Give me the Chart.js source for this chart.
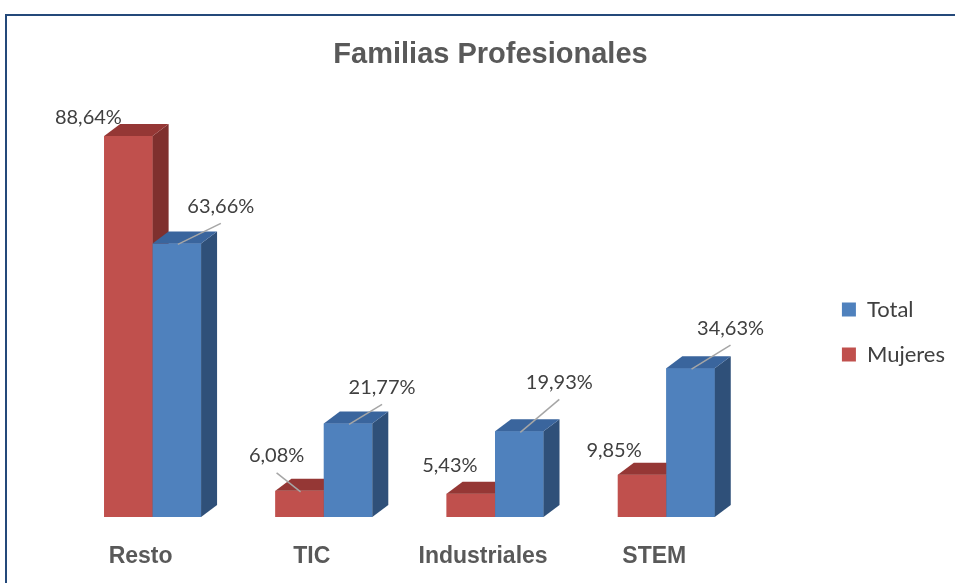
<!DOCTYPE html>
<html>
<head>
<meta charset="utf-8">
<script src="https://cdn.jsdelivr.net/npm/chart.js@4.4.0/dist/chart.umd.min.js"></script>
<style>
  html, body { margin: 0; padding: 0; background: #ffffff; }
  #wrap { width: 955px; height: 583px; position: relative; }
</style>
</head>
<body>
<div id="wrap"><canvas id="c" width="955" height="583"></canvas></div>
<script>
const categories = ['Resto', 'TIC', 'Industriales', 'STEM'];
const mujeresValues = [88.64, 6.08, 5.43, 9.85];
const totalValues = [63.66, 21.77, 19.93, 34.63];
const seriesNames = ['Mujeres', 'Total'];
const chartTitle = 'Familias Profesionales';

const fmt = v => v.toFixed(2).replace('.', ',') + '%';

// 3D look: faces
const faceColors = [
  { front: '#C0504D', top: '#953735', side: '#7F302E' },
  { front: '#4F81BD', top: '#3A659D', side: '#2F5079' }
];
const DEPTH_X = 16, DEPTH_Y = 12;

// label placement relative to front-top centre of each bar (style, not data)
const labelPlacement = [
  { off: [[-40, -19], [-23, -35], [-21, -28], [-28, -24]], leader: [false, true, false, false] },
  { off: [[44, -37], [34, -36], [40, -49], [40, -40]], leader: [true, true, true, true] }
];

const borderPlugin = {
  id: 'frame',
  beforeDraw(chart) {
    const ctx = chart.ctx;
    ctx.save();
    ctx.fillStyle = '#ffffff';
    ctx.fillRect(0, 0, chart.width, chart.height);
    ctx.strokeStyle = '#24497A';
    ctx.lineWidth = 2;
    ctx.strokeRect(6, 15, chart.width + 20, chart.height + 20);
    ctx.restore();
  }
};

const bars3d = {
  id: 'bars3d',
  afterDatasetsDraw(chart) {
    const ctx = chart.ctx;
    ctx.save();
    const n = categories.length;
    for (let i = 0; i < n; i++) {
      for (let d = 0; d < chart.data.datasets.length; d++) {
        const el = chart.getDatasetMeta(d).data[i];
        const { x, y, base, width } = el.getProps(['x', 'y', 'base', 'width'], true);
        const l = x - width / 2, r = x + width / 2;
        const c = faceColors[d];
        ctx.fillStyle = c.front;
        ctx.fillRect(l, y, width, base - y);
        ctx.fillStyle = c.side;
        ctx.beginPath();
        ctx.moveTo(r, y);
        ctx.lineTo(r + DEPTH_X, y - DEPTH_Y);
        ctx.lineTo(r + DEPTH_X, base - DEPTH_Y);
        ctx.lineTo(r, base);
        ctx.closePath();
        ctx.fill();
        ctx.fillStyle = c.top;
        ctx.beginPath();
        ctx.moveTo(l, y);
        ctx.lineTo(l + DEPTH_X, y - DEPTH_Y);
        ctx.lineTo(r + DEPTH_X, y - DEPTH_Y);
        ctx.lineTo(r, y);
        ctx.closePath();
        ctx.fill();
      }
    }
    ctx.font = '20px Lato';
    ctx.textAlign = 'center';
    ctx.textBaseline = 'middle';
    for (let d = 0; d < chart.data.datasets.length; d++) {
      const meta = chart.getDatasetMeta(d);
      meta.data.forEach((el, i) => {
        const { x, y } = el.getProps(['x', 'y'], true);
        const p = labelPlacement[d];
        const lx = x + p.off[i][0], ly = y + p.off[i][1];
        if (p.leader[i]) {
          ctx.strokeStyle = '#A6A6A6';
          ctx.lineWidth = 1.5;
          ctx.beginPath();
          ctx.moveTo(x + 1, y + 1);
          ctx.lineTo(lx, ly + 17);
          ctx.stroke();
        }
        ctx.fillStyle = '#404040';
        ctx.fillText(fmt(chart.data.datasets[d].data[i]), lx, ly);
      });
    }
    ctx.restore();
  }
};

new Chart(document.getElementById('c'), {
  type: 'bar',
  data: {
    labels: categories,
    datasets: [
      { label: seriesNames[0], data: mujeresValues, backgroundColor: faceColors[0].front, borderWidth: 0, clip: false },
      { label: seriesNames[1], data: totalValues, backgroundColor: faceColors[1].front, borderWidth: 0, clip: false }
    ]
  },
  options: {
    responsive: false,
    animation: false,
    devicePixelRatio: 1,
    layout: { padding: { top: 0, left: 26, right: 0, bottom: 0 } },
    datasets: { bar: { categoryPercentage: 0.566, barPercentage: 1.0 } },
    scales: {
      x: {
        grid: { display: false, drawTicks: false },
        border: { display: false },
        ticks: {
          color: '#595959',
          font: { family: '"Liberation Sans", Arial, sans-serif', size: 23, weight: 'bold' },
          padding: 26,
          labelOffset: -12
        },
        afterFit(scale) { scale.height = 66; }
      },
      y: {
        position: 'right',
        min: 0,
        max: 88,
        display: true,
        grid: { display: false, drawTicks: false },
        border: { display: false },
        ticks: { display: false },
        afterFit(scale) { scale.width = 67; }
      },
      yLeft: {
        position: 'left',
        min: 0,
        max: 88,
        display: true,
        grid: { display: false, drawTicks: false },
        border: { display: false },
        ticks: { display: false },
        afterFit(scale) { scale.width = 41; }
      }
    },
    plugins: {
      title: {
        display: true,
        text: chartTitle,
        color: '#595959',
        font: { family: '"Liberation Sans", Arial, sans-serif', size: 29, weight: 'bold' },
        padding: { top: 38, bottom: 66 }
      },
      legend: {
        position: 'right',
        reverse: true,
        title: {
          display: true,
          text: ' ',
          font: { size: 10 },
          padding: { top: 0, bottom: 69 }
        },
        labels: {
          boxWidth: 14,
          boxHeight: 14,
          padding: 23,
          color: '#404040',
          font: { family: 'Lato', size: 22 }
        }
      },
      tooltip: { enabled: false }
    }
  },
  plugins: [borderPlugin, bars3d]
});
</script>
</body>
</html>
